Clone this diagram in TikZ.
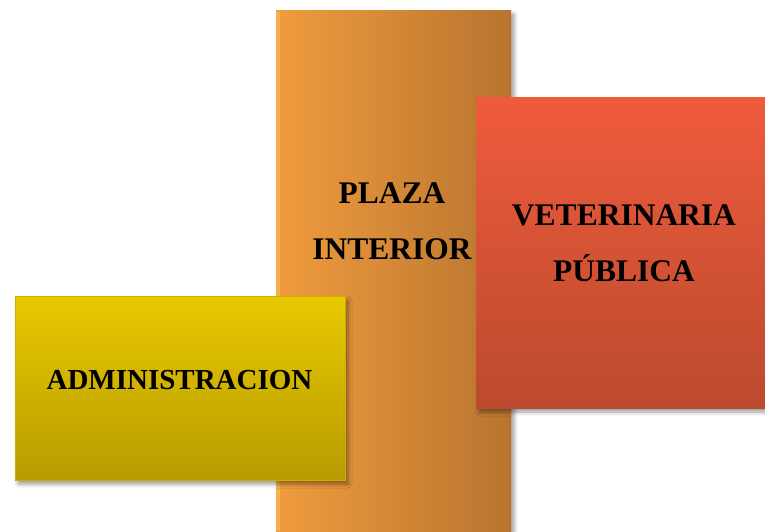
\documentclass[tikz,border=0pt]{standalone}
\usepackage{fontspec}
\setmainfont{Liberation Serif}
\usetikzlibrary{shadows.blur}
\definecolor{plazaLeft}{HTML}{F09C3E}
\definecolor{plazaRight}{HTML}{B8742F}
\definecolor{plazaEdge}{HTML}{F8C860}
\definecolor{vetTop}{HTML}{EF5B3C}
\definecolor{vetBottom}{HTML}{BB4A2E}
\definecolor{adminTop}{HTML}{E8C900}
\definecolor{adminBottom}{HTML}{B89B00}
\definecolor{adminFrame}{HTML}{C9B000}
\begin{document}
\begin{tikzpicture}[x=1pt, y=-1pt,
    area/.style={rectangle, inner sep=0pt, outer sep=0pt,
        blur shadow={shadow xshift=3pt, shadow yshift=-4pt, shadow opacity=40, shadow blur radius=4pt}},
    label/.style={font=\fontsize{31.5}{56}\selectfont\bfseries, align=center, text=black}]
    \useasboundingbox (0,0) rectangle (765,531);
    % plaza interior
    \node[area, left color=plazaLeft, right color=plazaRight,
        minimum width=235pt, minimum height=530pt] (plaza) at (393.5,275) {};
    \fill[plazaEdge, opacity=0.5] (276,12) rectangle (280,531);
    \node[label] (plazaText) at (392,221.5) {PLAZA\\INTERIOR};
    % veterinaria publica
    \node[area, top color=vetTop, bottom color=vetBottom,
        minimum width=290pt, minimum height=311pt] (vet) at (621,252.5) {};
    \node[label] (vetText) at (624,243.5) {VETERINARIA\\PÚBLICA};
    % administracion
    \node[area, top color=adminTop, bottom color=adminBottom, draw=adminFrame, line width=1pt,
        minimum width=330pt, minimum height=184pt] (admin) at (180,388) {};
    \node[label, font=\fontsize{29}{34}\selectfont\bfseries] (adminText) at (179.5,380) {ADMINISTRACION};
\end{tikzpicture}
\end{document}
